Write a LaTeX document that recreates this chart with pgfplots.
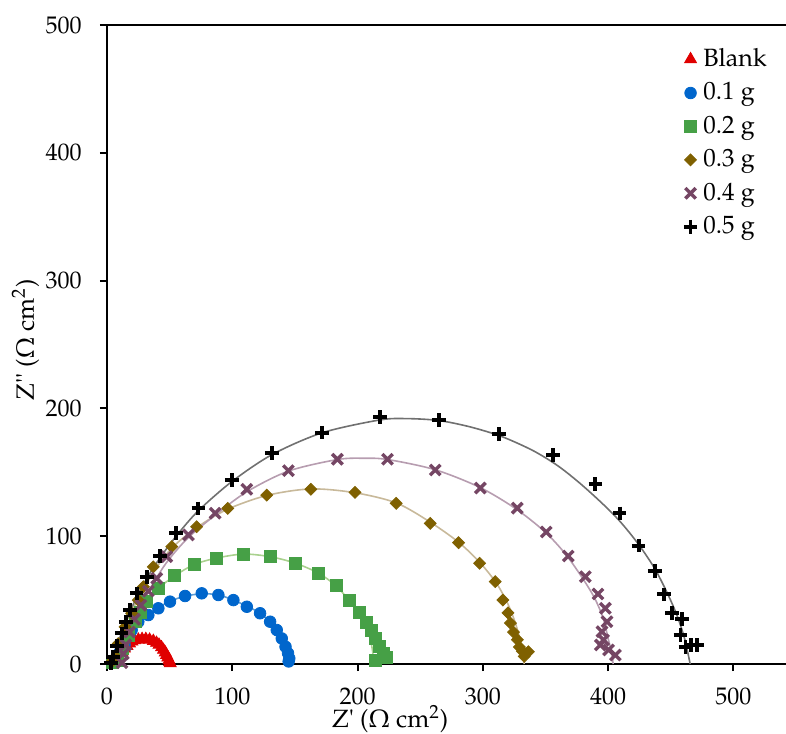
\documentclass[12pt,border=0pt]{standalone}
\usepackage[T1]{fontenc}
\usepackage{textcomp}
\usepackage{mathpazo}
\usepackage{pgfplots}
\pgfplotsset{compat=1.18}

\definecolor{cBlank}{HTML}{E00000}
\definecolor{cOne}{HTML}{0066CC}
\definecolor{cTwo}{HTML}{46A046}
\definecolor{cThree}{HTML}{7F6000}
\definecolor{cFour}{HTML}{754664}
\definecolor{lOne}{HTML}{5B9BD5}
\definecolor{lTwo}{HTML}{A9D18E}
\definecolor{lThree}{HTML}{C8B99A}
\definecolor{lFour}{HTML}{B79DB0}
\definecolor{lFive}{HTML}{707070}
\newcommand\tickfont{\fontsize{12}{14}\selectfont}
\newcommand\labfont{\fontsize{12.5}{15}\selectfont}

\begin{document}
\begin{tikzpicture}
\begin{axis}[
  scale only axis,
  width=339.5pt, height=319.5pt,
  xmin=0, xmax=542, ymin=0, ymax=500,
  xtick={0,100,...,500}, ytick={0,100,...,500},
  axis x line*=box, axis y line*=left,
  axis line style={black, line width=1pt, -},
  xtick pos=left, ytick pos=left,
  tick align=outside, major tick length=3.5pt,
  tick style={black, line width=1pt},
  tick label style={font=\tickfont},
  yticklabel style={xshift=-5pt},
  xticklabel style={inner sep=0pt, yshift=-8.3pt},
  xlabel={Z\textquotesingle\ ($\Omega$ cm$^2$)},
  ylabel={Z\textquotesingle\textquotesingle\ ($\Omega$ cm$^2$)},
  label style={font=\labfont},
  xlabel style={at={(axis description cs:0.417,0)}, anchor=base, inner sep=0pt, yshift=-31.6pt},
  ylabel style={at={(axis description cs:0,0.507)}, anchor=base, yshift=36.5pt},
  clip mode=individual,
  legend cell align=left,
  legend style={draw=none, fill=none, font=\labfont, at={(rel axis cs:0.84,0.975)}, anchor=north west,
    row sep=3.25pt, column sep=1.5pt, nodes={inner sep=1.5pt}},
  legend image code/.code={\draw[#1] plot coordinates {(3pt,0pt)};},
]
% fitted curves
\addplot[cBlank, line width=0.6pt, smooth, forget plot] coordinates {
(5,0) (7,6) (10,11) (14,15) (19,18) (25,19.5) (30,19.5) (36,18.5) (41,15.5) (45,12) (48,7) (49.5,3) (50,0)};
\addplot[lOne, line width=0.8pt, smooth, forget plot] coordinates {
(6,0) (10,8) (15,16) (20,25) (26,33) (33,39) (41,44) (50,49) (62,53) (76,55) (89,54) (101,50) (112,45) (122,40) (130,33) (136,26) (140,19) (142.5,11) (143.5,5) (144,0)};
\addplot[lTwo, line width=0.8pt, smooth, forget plot] coordinates {
(5,0) (10,12) (17,25) (25,37) (32,48) (41,59) (54,69) (70,78) (88,83) (109,86) (130,84) (150,79) (169,71) (183,61) (193,50) (201,40) (206,30) (210,20) (212,10) (213,0)};
\addplot[lThree, line width=0.8pt, smooth, forget plot] coordinates {
(4,0) (8,14) (13,28) (19,40) (26,53) (37,72) (52,91) (72,107) (96,121) (128,132) (163,137) (198,134) (231,126) (258,111) (281,95) (298,79) (311,63) (320,47) (326,32) (330,18) (332,8) (333,0)};
\addplot[lFour, line width=0.8pt, smooth, forget plot] coordinates {
(10,0) (13,12) (18,27) (25,42) (35,60) (48,80) (65,99) (87,117) (112,135) (145,151) (184,160) (205,161) (224,160) (262,152) (298,138) (327,121) (350,103) (366,86) (379,68) (389,52) (396,36) (400,20) (403,8) (404,0)};
\addplot[lFive, line width=0.8pt, smooth, forget plot] coordinates {
(3,0) (7,12) (12,25) (18,40) (25,55) (33,69) (43,84) (56,101) (73,120) (100,143) (132,164) (172,181) (218,191) (240,192) (265,190.5) (290,185.5) (315,178) (340,167) (360,155) (378,141) (396,125) (410,111) (424,94) (437,75) (447,56) (455,38) (461,20) (465.5,0)};

% measured points
\addplot[only marks, mark=triangle*, mark size=3.4pt, color=cBlank] coordinates {
(7,3) (9,6) (12,9) (14,12) (16,14) (18,16) (20,17.5) (22,18.5) (25,19) (28,19.5) (31,19.5) (34,19) (37,18) (39.5,16.5) (41.5,15) (43.5,13) (45,11) (46.5,9) (47.5,7) (48.5,5) (49.5,3) (50,1.5) (50.5,0.5)};
\addlegendentry{Blank}
\addplot[only marks, mark=*, mark size=2.9pt, color=cOne] coordinates {
(6,2) (8,5) (10,9) (14,15) (19.7,26.6) (25,33) (33,38.3) (41,43.6) (50.3,48.8) (62.3,53.2) (75.6,55.3) (88.9,54) (100.9,50) (111.6,44.8) (122.2,39.7) (130.2,33.1) (135.5,26.6) (139.5,20) (142.5,13.5) (144.5,8.4) (145.5,4.4) (145,2)};
\addlegendentry{0.1 g}
\addplot[only marks, mark=square*, mark size=3pt, color=cTwo] coordinates {
(4,1) (8,3) (12,12) (17,22) (23,33) (27,40) (31.7,48.8) (41,59.2) (53.5,69.1) (69.7,78) (87.6,82.7) (108.9,86) (130.2,84) (150.2,78.8) (168.8,71) (182.9,61.3) (193.3,50) (201.5,40.4) (206.9,32.6) (211.4,26.6) (214,20) (217.5,13.5) (220.7,8.4) (223.4,5.2) (214,3)};
\addlegendentry{0.2 g}
\addplot[only marks, mark=square*, mark size=2.1pt, mark options={rotate=45}, color=cThree] coordinates {
(4,2) (6.7,5.7) (9,16) (14.4,29) (19.7,39.7) (25,50) (29,60.5) (37,76) (51.7,91.8) (71.6,107.4) (96.4,121.8) (127.5,132.2) (162.7,136.7) (198,134.3) (230.8,125.7) (258,110) (280.6,94.9) (297.4,78.8) (309.9,64.4) (316,50) (320,40) (322,32) (324.5,25) (327.6,19) (329.2,13.3) (331.6,10) (336.4,9.6) (333,6)};
\addlegendentry{0.3 g}
\addplot[only marks, mark=x, mark size=3.7pt, line width=1.7pt, color=cFour] coordinates {
(12,1) (13,8) (15,15) (18,25) (22,35) (27,46) (33,57) (39.7,67) (47.7,84) (65,101) (86.3,118) (111.6,136.7) (144.8,151.3) (183.9,160.2) (223.9,160.2) (262,151.8) (298,137.7) (327.5,122) (350.6,103.3) (368.2,84.5) (381.8,68.3) (391.9,54.8) (397.8,43.6) (399.1,33.1) (395.1,25.3) (396.4,18.8) (393.8,14.9) (400.4,11) (405.8,7)};
\addlegendentry{0.4 g}
\addplot[only marks, mark=+, mark size=3.4pt, line width=1.9pt, color=black] coordinates {
(3,1) (5,5.7) (8,14) (11.7,24) (15,33) (18.4,42.3) (23.7,55.3) (31.7,68.3) (42.3,84.5) (55.1,102.3) (72.9,121.8) (99.6,144) (131.5,164.9) (171.5,181) (218,193.1) (265,191) (313,180) (356,163.5) (389.8,140.8) (409.2,117.9) (424.4,92.6) (437.2,72.8) (444.5,54.5) (451,39.7) (459,35) (457.7,22.7) (461.7,13.5) (466,14.9) (471,14.9)};
\addlegendentry{0.5 g}
\end{axis}
\pgfresetboundingbox
\path[use as bounding box] ([shift={(-53.5pt,-34.5pt)}]current axis.south west) rectangle ([shift={(0pt,12.5pt)}]current axis.north east);
\end{tikzpicture}
\end{document}
